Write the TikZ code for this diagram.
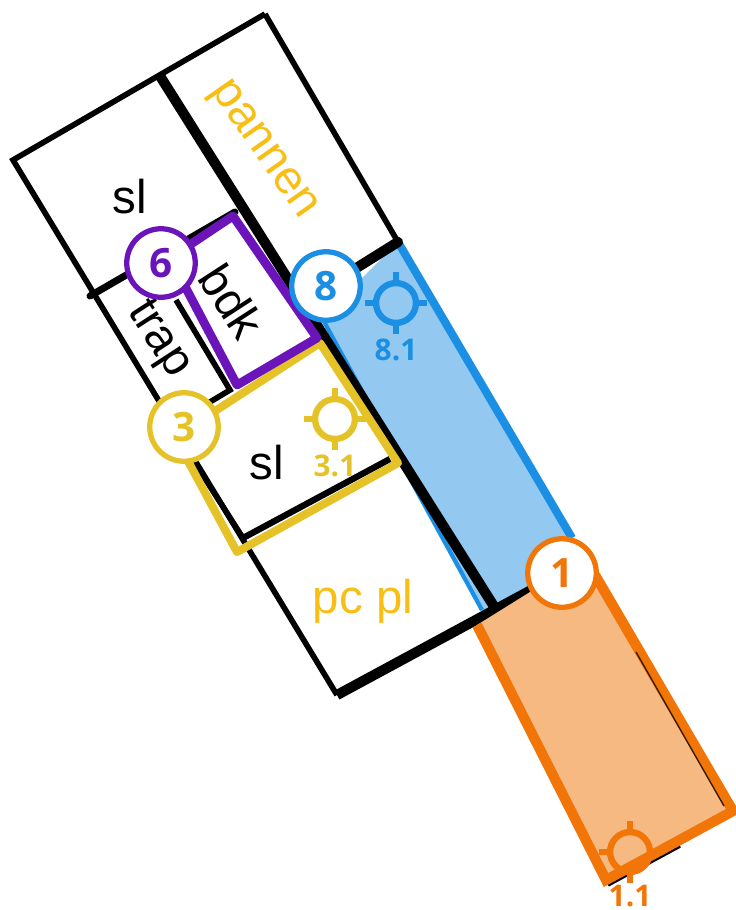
\documentclass[tikz,border=0pt]{standalone}
\usepackage{fontspec}
\setmainfont{Liberation Sans}
\newfontfamily\numfont{Open Sans}
\definecolor{planblue}{HTML}{1B8FE3}
\definecolor{planbluefill}{HTML}{93C9F0}
\definecolor{planorange}{HTML}{F27507}
\definecolor{planorangefill}{HTML}{F6B982}
\definecolor{planyellow}{HTML}{E5C227}
\definecolor{planlabel}{HTML}{F9BE14}
\definecolor{planpurple}{HTML}{6A14BA}
\tikzset{
  wall/.style={line width=3.2pt},
  heavywall/.style={line width=5.8pt},
  zone/.style={line width=4.6pt},
  room/.style={font=\fontsize{27}{29}\selectfont},
  badge/.style={circle,draw=#1,fill=white,line width=3pt,minimum size=39pt,inner sep=0pt,
    text=#1,font=\numfont\bfseries\fontsize{23}{24}\selectfont},
  sight/.style={circle,draw=#1,line width=3.6pt,minimum size=22.7pt,inner sep=0pt},
  sightlabel/.style={text=#1,font=\numfont\bfseries\fontsize{17}{18}\selectfont}
}
\begin{document}
\begin{tikzpicture}[x=0.02cm,y=-0.02cm]
\useasboundingbox (0,0) rectangle (735,910);
% filled zones
\fill [planbluefill] (398,242) -- (572,538) -- (562,578) -- (482,612) -- (322,318) -- cycle;
\draw [planblue,zone] (398,242) -- (572,538);
\draw [planblue,line width=2.4pt] (322,318) -- (482,610);
\draw [wall] (265,14) -- (13,160) -- (337,695);
\draw [wall] (265,14) -- (398,242);
\draw [heavywall,line cap=round] (398,242) -- (350,272);
\draw [line width=4pt,line cap=round] (90,296) -- (235,212);
\draw [heavywall] (160,76) -- (495,608);
\draw [heavywall] (337,695) -- (535,588);
\draw [wall] (176,300) -- (230,390) -- (205,405);
\draw [wall] (195,463) -- (243,538);
\draw [line width=3.6pt] (243,538) -- (390,459);
% orange zone
\draw [line width=2pt] (608,885) -- (680,846);
\fill [planorangefill] (477,625) -- (530,592) -- (595,575) -- (733,810) -- (606,880) -- cycle;
\draw [planorange,line width=5.8pt,line join=miter] (595,575) -- (733,811) -- (606,880) -- (477,625);
\draw [line width=0.8pt,black!75!planorange] (636,652) -- (724,806);
% yellow room
\draw [planyellow,zone,line join=round] (175,437) -- (320,343) -- (398,463) -- (237,552) -- (175,437);
% purple room
\draw [planpurple,line width=5pt,line join=round] (170,258) -- (233,216) -- (317,338) -- (237,385) -- cycle;
% labels
\node (pannen) [room,text=planlabel,rotate=-55] at (262,151) {pannen};
\node (slTop) [room] at (130,197) {sl};
\node (bdk) [room,rotate=-57] at (232,301) {bdk};
\node (trap) [room,rotate=-57] at (158,340) {trap};
\node (slLow) [room] at (267,463) {sl};
\node (pcpl) [room,text=planlabel] at (363,601) {pc pl};
% sights
\foreach \name/\px/\py/\col/\txt/\ly in {a/396/303/planblue/8.1/350,b/335/419/planyellow/3.1/466,c/630/852/planorange/1.1/896} {
  \node (sight\name) [sight=\col] at (\px,\py) {};
  \foreach \ang in {0,90,180,270}
    \draw [\col,line width=3pt] (sight\name.\ang) ++(\ang:4.5pt) -- ++(\ang+180:7.5pt);
  \node (sightlabel\name) [sightlabel=\col] at (\px,\ly) {\txt};
}
% numbers
\node (badgeSix) [badge=planpurple] at (161,263) {6};
\node (badgeEight) [badge=planblue] at (326,286) {8};
\node (badgeThree) [badge=planyellow] at (184,427) {3};
\node (badgeOne) [badge=planorange] at (562,573) {1};
\end{tikzpicture}
\end{document}
